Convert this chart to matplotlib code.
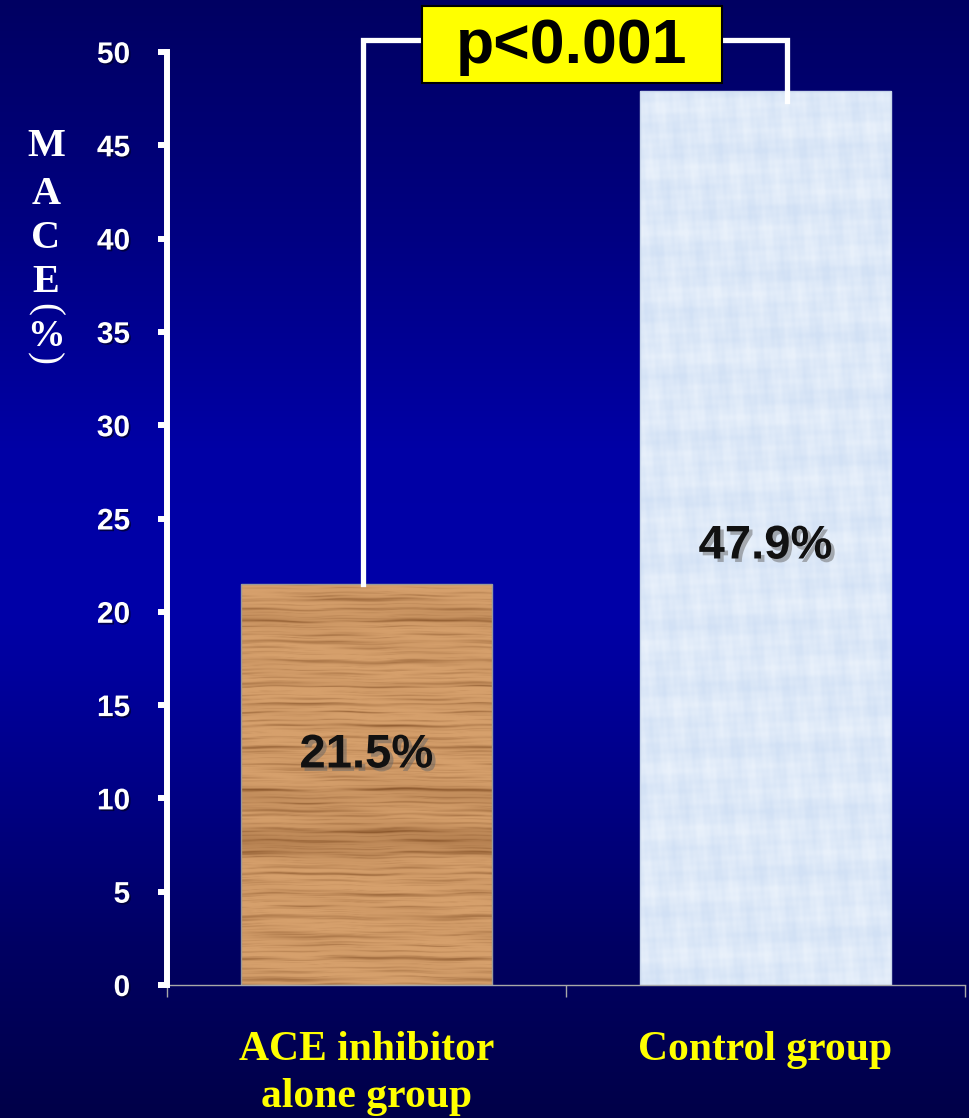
import numpy as np
import matplotlib
matplotlib.use("Agg")
import matplotlib.pyplot as plt
from matplotlib import patheffects as pe
from matplotlib.patches import Rectangle

# ---- data ----
groups = ["ACE inhibitor\nalone group", "Control group"]
mace_pct = [21.5, 47.9]
p_text = "p<0.001"
y_ticks = [0, 5, 10, 15, 20, 25, 30, 35, 40, 45, 50]
y_label_chars = ["M", "A", "C", "E"]

W_PX, H_PX, DPI = 970, 1118, 100
fig = plt.figure(figsize=(W_PX / DPI, H_PX / DPI), dpi=DPI)


def fx(px):
    return px / W_PX


def fy(py):
    return 1 - py / H_PX


# vertical navy gradient background
bg_ax = fig.add_axes([0, 0, 1, 1], zorder=-10)
stops_y = [0.0, 0.2, 0.4, 0.55, 0.7, 0.85, 1.0]
stops_b = [98, 128, 165, 168, 135, 98, 72]
rows = np.linspace(0, 1, 600)
blue = np.interp(rows, stops_y, stops_b) / 255.0
grad = np.zeros((600, 2, 3))
grad[:, :, 2] = blue[:, None]
bg_ax.imshow(grad, aspect="auto", extent=[0, 1, 0, 1], origin="upper")
bg_ax.set_axis_off()

ax = fig.add_axes([fx(167), fy(985), fx(965) - fx(167), fy(52) - fy(985)])
ax.set_facecolor("none")
x = np.arange(len(groups))
ax.set_xlim(-0.5, 1.5)
ax.set_ylim(0, 50)

bars = ax.bar(x, mace_pct, width=0.63, zorder=2)


# textures for bar fills
def wood_texture(h=600, w=200):
    yy, xx = np.mgrid[0:1:h * 1j, 0:1:w * 1j]
    warp = 0.0015 * np.sin(2 * np.pi * (xx * 1.3 + yy * 2)) + 0.001 * np.sin(2 * np.pi * (xx * 3.7 + 0.3))
    t = yy + warp
    lines = np.zeros_like(yy)
    specs = [(19, 0.0, 0.55, 1.1), (31, 1.3, 0.45, 2.3), (47, 2.1, 0.35, 1.7), (73, 0.7, 0.3, 3.1),
             (97, 1.9, 0.25, 2.7)]
    for freq, ph, amp, fxq in specs:
        peak = np.clip(np.sin(2 * np.pi * t * freq + ph), 0, 1) ** 10
        broken = 0.55 + 0.45 * np.sin(2 * np.pi * (xx * fxq + yy * freq * 0.37) + ph * 2)
        lines += amp * peak * broken
    band = (0.35 * np.exp(-((yy - 0.36) / 0.04) ** 2) + 0.2 * np.exp(-((yy - 0.47) / 0.03) ** 2)
            + 0.15 * np.exp(-((yy - 0.92) / 0.03) ** 2))
    mix = np.clip(lines + band + 0.05 * np.sin(2 * np.pi * (xx * 1.1 + yy * 9)), 0, 1)
    light = np.array([214, 160, 108]) / 255
    dark = np.array([140, 88, 45]) / 255
    return light * (1 - mix[..., None]) + dark * mix[..., None]


def paper_texture(h=600, w=200):
    yy, xx = np.mgrid[0:1:h * 1j, 0:1:w * 1j]
    yy2 = yy * 2.4
    blot = (np.sin(2 * np.pi * (3.1 * xx + 2.3 * yy2) + 0.4) * np.sin(2 * np.pi * (-2.7 * xx + 3.9 * yy2) + 1.9)
            + np.sin(2 * np.pi * (6.3 * xx - 4.1 * yy2) + 2.7) * np.sin(2 * np.pi * (5.9 * xx + 7.7 * yy2) + 0.9))
    fibre = (np.sin(2 * np.pi * (14.3 * xx + 11.1 * yy2) + 1.3) * np.sin(2 * np.pi * (-12.7 * xx + 15.9 * yy2) + 0.2)
             + np.sin(2 * np.pi * (23.1 * xx - 19.7 * yy2) + 2.2) * np.sin(2 * np.pi * (21.3 * xx + 25.9 * yy2)))
    n = 0.7 * blot + 0.3 * fibre
    m = np.clip((n + 1.4) / 2.8, 0, 1)
    light = np.array([233, 241, 251]) / 255
    dark = np.array([210, 225, 245]) / 255
    return light * (1 - m[..., None]) + dark * m[..., None]


textures = [wood_texture(), paper_texture()]
edges = ["#9a9a9a", "#c8d6ea"]
for bar, tex, ec in zip(bars, textures, edges):
    bar.set_facecolor("none")
    bar.set_edgecolor(ec)
    bar.set_linewidth(1.0)
    x0, y0 = bar.get_x(), bar.get_y()
    im = ax.imshow(tex, extent=[x0, x0 + bar.get_width(), y0, y0 + bar.get_height()],
                   origin="lower", aspect="auto", zorder=1.5, interpolation="bilinear")
    im.set_clip_path(bar)

# value labels inside bars
label_heights = (12.3, 23.5)
for xi, v, ly in zip(x, mace_pct, label_heights):
    ax.text(xi, ly, f"{v}%", ha="center", va="center", fontsize=34, fontweight="bold",
            family="Liberation Sans", color="#111111", zorder=4,
            path_effects=[pe.SimplePatchShadow(offset=(2.5, -2.5), shadow_rgbFace="#666666", alpha=0.5),
                          pe.Normal()])

# significance bracket
bracket_top = 50.65
ax.plot([-0.01, -0.01, 1.054, 1.054], [mace_pct[0], bracket_top, bracket_top, 47.4],
        color="white", lw=3.8, solid_joinstyle="miter", clip_on=False, zorder=3)

# p-value box
fig.add_artist(Rectangle((fx(422), fy(83)), fx(722) - fx(422), fy(6) - fy(83),
                         transform=fig.transFigure, facecolor="#ffff00", edgecolor="black",
                         linewidth=1.5, zorder=5))
fig.text(fx(572), fy(63), p_text, ha="center", va="baseline", fontsize=45,
         fontweight="bold", family="Liberation Sans", color="black", zorder=6)

# axes styling
for side in ("top", "right"):
    ax.spines[side].set_visible(False)
ax.spines["left"].set_color("white")
ax.spines["left"].set_linewidth(4.3)
ax.spines["left"].set_zorder(3)
ax.spines["bottom"].set_color("#a8a8a8")
ax.spines["bottom"].set_linewidth(1.0)

ax.set_yticks(y_ticks)
ax.set_yticklabels([str(t) for t in y_ticks])
ax.tick_params(axis="y", direction="out", length=6.5, width=4.3, color="white", pad=20,
               labelsize=21.5, labelcolor="white")
for lab in ax.get_yticklabels():
    lab.set_fontfamily("Liberation Sans")
    lab.set_fontweight("bold")
    lab.set_path_effects([pe.SimplePatchShadow(offset=(1.2, -1.2), shadow_rgbFace="#000030", alpha=0.8),
                          pe.Normal()])

ax.set_xticks(x)
ax.set_xticklabels(groups)
ax.set_xticks([-0.5, 0.5, 1.5], minor=True)
ax.tick_params(axis="x", which="major", length=0, pad=33, labelsize=30, labelcolor="#ffff00")
ax.tick_params(axis="x", which="minor", direction="out", length=8.6, width=1.0, color="#a8a8a8")
for lab in ax.get_xticklabels():
    lab.set_fontfamily("Liberation Serif")
    lab.set_fontweight("bold")
    lab.set_linespacing(1.3)

# stacked vertical axis title
letter_y = [146, 194, 238, 283]
for ch, py in zip(y_label_chars, letter_y):
    fig.text(fx(46), fy(py), ch, ha="center", va="center", fontsize=29, fontweight="bold",
             family="Liberation Serif", color="white")
fig.text(fx(44), fy(310), "(", ha="center", va="center", rotation=-90, fontsize=28,
         family="Liberation Serif", color="white")
fig.text(fx(46), fy(336), "%", ha="center", va="center", fontsize=27, fontweight="bold",
         family="Liberation Serif", color="white")
fig.text(fx(44), fy(358), ")", ha="center", va="center", rotation=-90, fontsize=28,
         family="Liberation Serif", color="white")

fig.savefig("out.png", dpi=DPI)
